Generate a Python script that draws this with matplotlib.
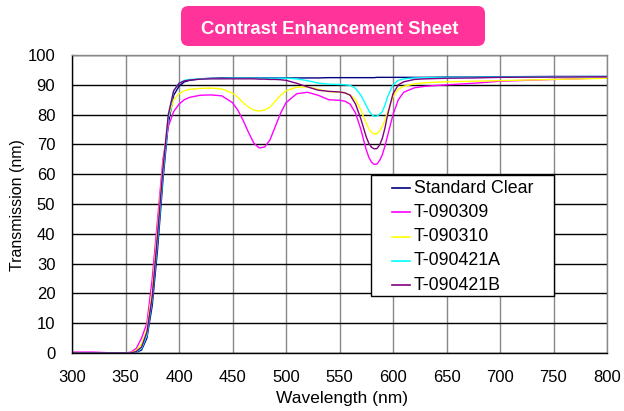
import matplotlib
matplotlib.use("Agg")
import matplotlib.pyplot as plt
from matplotlib.patches import FancyBboxPatch, Rectangle
from matplotlib.lines import Line2D

plt.rcParams['font.family'] = ['Liberation Sans', 'DejaVu Sans']

wavelength = [300, 320, 340, 350, 355, 360, 365, 370, 375, 380, 385, 390, 395, 400, 405, 410,
              420, 430, 440, 450, 455, 460, 465, 470, 475, 480, 485, 490, 495, 500,
              510, 520, 530, 540, 550, 555, 560, 565, 570, 572.5, 575, 577.5, 580, 582.5, 585,
              587.5, 590, 592.5, 595, 600, 605, 610, 620, 630, 650, 675, 700, 750, 800]

standard_clear = [0, 0, 0, 0, 0, 0.2, 1, 5, 16, 35, 58, 77, 86.5, 89.5, 91, 91.5,
                  92, 92.2, 92.3, 92.3, 92.3, 92.3, 92.3, 92.3, 92.3, 92.3, 92.3, 92.3, 92.3, 92.3,
                  92.3, 92.3, 92.3, 92.4, 92.4, 92.4, 92.4, 92.4, 92.4, 92.4, 92.4, 92.4, 92.4, 92.4, 92.5,
                  92.5, 92.5, 92.5, 92.5, 92.5, 92.5, 92.5, 92.5, 92.5, 92.6, 92.6, 92.7, 92.8, 92.8]

t_090309 = [0.3, 0.3, 0, 0, 0.3, 1.5, 5, 10, 25, 45, 65, 76, 81, 83.5, 85, 85.8,
            86.5, 86.6, 86.3, 84, 81.5, 78, 74, 70.4, 68.8, 69.1, 71.5, 76, 80.5, 84,
            87, 87.5, 86.5, 85, 84.8, 84.5, 83.5, 80.5, 75, 71.5, 68.2, 65.6, 64, 63.3, 63.4,
            64.6, 66.5, 69.5, 73, 80, 85, 87.5, 89, 89.5, 90, 90.5, 91.2, 91.8, 92.3]

t_090310 = [0, 0, 0, 0, 0.1, 0.8, 3, 8, 21, 42, 63, 79, 85, 87, 88, 88.5,
            88.8, 88.9, 88.6, 87.2, 85.8, 84, 82.5, 81.5, 81.2, 81.5, 82.5, 84.5, 86.5, 88,
            89.2, 89.3, 88.5, 87.7, 87.5, 87.3, 86.6, 85, 81.5, 79.2, 77, 75.2, 74, 73.5, 73.6,
            74.5, 76, 78.2, 81, 86, 88.5, 89.5, 90.3, 90.7, 91, 91.2, 91.4, 91.8, 92.2]

t_090421a = [0, 0, 0, 0, 0, 0.3, 1.5, 6, 18, 38, 60, 79, 88, 90.5, 91.5, 91.8,
             92, 92.1, 92.1, 92.2, 92.2, 92.2, 92.2, 92.2, 92.2, 92.2, 92.2, 92.2, 92.2, 92.2,
             92, 91.4, 90.6, 90.2, 90.1, 90, 89.8, 88.8, 86.5, 84.8, 83, 81.3, 80, 79.4, 79.5,
             80.1, 81, 83.2, 86, 90, 91.5, 92, 92.3, 92.4, 92.5, 92.5, 92.6, 92.7, 92.8]

t_090421b = [0, 0, 0, 0, 0, 0.5, 2, 7, 19, 40, 62, 80, 88, 90.5, 91.3, 91.6,
             91.9, 92, 92, 92, 92, 92, 92, 92, 91.9, 91.9, 91.8, 91.8, 91.7, 91.5,
             90.5, 89.3, 88.2, 87.8, 87.6, 87.3, 86.5, 83.5, 78.5, 75.5, 72.5, 70.3, 69, 68.5, 68.6,
             69.8, 72, 75.5, 80, 87, 90, 91, 91.8, 92, 92.2, 92.3, 92.5, 92.6, 92.7]

series_names = ["Standard Clear", "T-090309", "T-090310", "T-090421A", "T-090421B"]
series_values = [standard_clear, t_090309, t_090310, t_090421a, t_090421b]
series_colors = ["#000080", "#FF00FF", "#FFFF00", "#00FFFF", "#800080"]

x_ticks = [300, 350, 400, 450, 500, 550, 600, 650, 700, 750, 800]
y_ticks = [0, 10, 20, 30, 40, 50, 60, 70, 80, 90, 100]

W, H = 624, 411
fig = plt.figure(figsize=(W / 100, H / 100), dpi=100)
ax = fig.add_axes([72 / W, 1 - 353 / H, 535 / W, 298 / H])

for name, vals, col in zip(series_names, series_values, series_colors):
    ax.plot(wavelength, vals, color=col, lw=1.0, label=name)

ax.set_xlim(300, 800)
ax.set_ylim(0, 100)
ax.set_xticks(x_ticks)
ax.set_yticks(y_ticks)
ax.tick_params(axis='both', length=0, labelsize=12, colors='black')
ax.tick_params(axis='x', pad=12.5)
ax.tick_params(axis='y', pad=12)
ax.yaxis.grid(True, color='black', lw=1.0)
ax.xaxis.grid(True, color='#888888', lw=1.0)
ax.set_axisbelow(True)
for s in ax.spines.values():
    s.set_color('black')
    s.set_linewidth(1.0)
ax.spines['top'].set_color('#888888')
ax.spines['right'].set_color('#888888')

ax.set_xlabel("Wavelength (nm)", fontsize=12.5, va='center')
ax.xaxis.set_label_coords((341.5 - 72) / 535, (353 - 398) / 298)
ax.set_ylabel("Transmission (nm)", fontsize=11.5, va='center')
ax.yaxis.set_label_coords((17.5 - 72) / 535, (353 - 205) / 298)

def ax_x(px):
    return (px - 72) / 535

def ax_y(py):
    return (353 - py) / 298

frame = Rectangle((ax_x(371), ax_y(296)), ax_x(554) - ax_x(371), ax_y(175) - ax_y(296),
                  transform=ax.transAxes, facecolor='white', edgecolor='black', lw=1.0, zorder=5)
ax.add_patch(frame)
row_y = [188, 212, 236.5, 260.5, 285]
for name, col, ry in zip(series_names, series_colors, row_y):
    ax.add_line(Line2D([ax_x(392), ax_x(410)], [ax_y(ry), ax_y(ry)], color=col, lw=1.2,
                       transform=ax.transAxes, zorder=6))
    ax.text(ax_x(414), ax_y(ry), name, transform=ax.transAxes, fontsize=12.8,
            va='center', ha='left', zorder=6)

box = FancyBboxPatch((181 / W, 1 - 46 / H), 304 / W, 40 / H,
                     boxstyle="round,pad=0,rounding_size=0.012",
                     mutation_aspect=W / H,
                     transform=fig.transFigure, facecolor="#FF3399", edgecolor="none")
fig.patches.append(box)
fig.text(329.5 / W, 1 - 29 / H, "Contrast Enhancement Sheet", color='white',
         fontsize=13.3, fontweight='bold', ha='center', va='center')

fig.savefig("out.png", dpi=100)
